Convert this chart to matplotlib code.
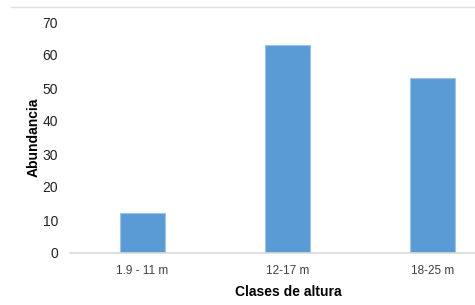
import matplotlib
matplotlib.use('Agg')
import matplotlib.pyplot as plt
from matplotlib.lines import Line2D
import numpy as np

# data
categories = ['1.9 - 11 m', '12-17 m', '18-25 m']
abundance = [12, 63, 53]
yticks = [0, 10, 20, 30, 40, 50, 60, 70]

plt.rcParams['font.family'] = ['Liberation Sans', 'DejaVu Sans']

fig = plt.figure(figsize=(4.75, 3.05), dpi=100)
ax = fig.add_axes([70/475, 52/305, 435/475, 231/305])

x = np.arange(len(categories))
ax.bar(x, abundance, width=0.31, color='#5B9BD5', edgecolor='#9DC3E6', linewidth=0.8, zorder=2)

ax.set_xlim(-0.5, len(categories) - 0.5)
ax.set_ylim(0, 70)
ax.set_yticks(yticks)
ax.set_xticks(x)
ax.set_xticklabels(categories, fontsize=8.5, color='#404040')
ax.tick_params(axis='y', length=0, pad=8.5, labelsize=10, labelcolor='#222222')
ax.tick_params(axis='x', length=0, pad=9)

for s in ['top', 'right', 'left']:
    ax.spines[s].set_visible(False)
ax.spines['bottom'].set_color('#D9D9D9')
ax.spines['bottom'].set_linewidth(1.2)

ax.set_ylabel('Abundancia', fontsize=10, fontweight='bold')
ax.set_xlabel('Clases de altura', fontsize=10, fontweight='bold')
ax.yaxis.set_label_coords(-0.068, 0.5)
ax.xaxis.set_label_coords((288 - 70) / 435, -0.137)

# chart frame remnant at top
fig.add_artist(Line2D([11/475, 1], [1 - 7/305, 1 - 7/305], color='#E0E0E0', linewidth=1))

fig.savefig('out.png', dpi=100)
